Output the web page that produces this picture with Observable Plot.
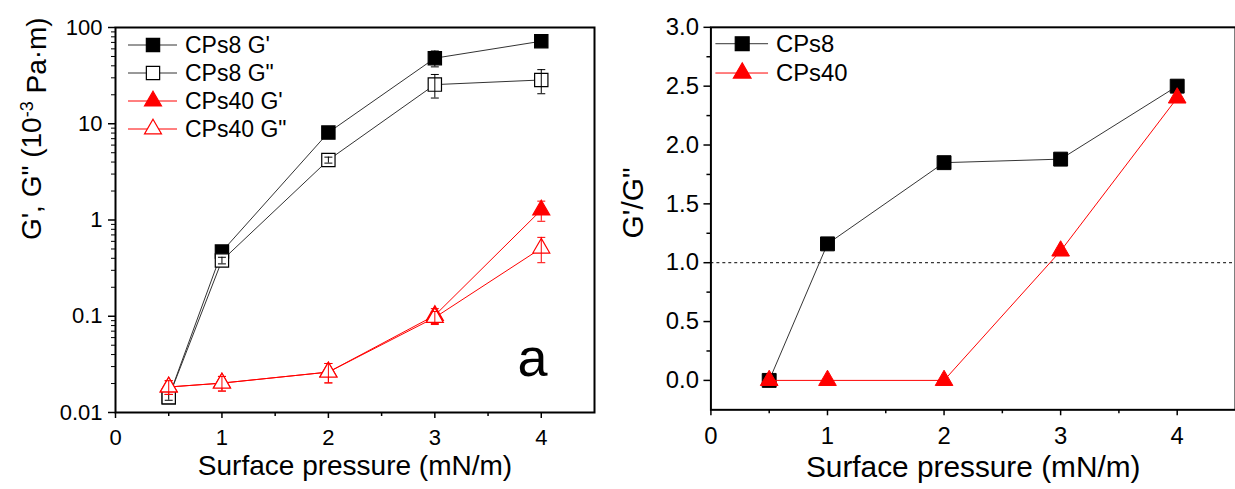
<!DOCTYPE html>
<html><head><meta charset="utf-8">
<script src="https://cdn.jsdelivr.net/npm/d3@7"></script>
<script src="https://cdn.jsdelivr.net/npm/@observablehq/plot@0.6"></script>
<style>
html,body{margin:0;padding:0;background:#fff;overflow:hidden;}
#wrap{position:relative;width:1235px;height:489px;overflow:hidden;background:#fff;}
#left{position:absolute;left:0;top:0;}
#right{position:absolute;left:620px;top:0;}
svg{font-family:"Liberation Sans",Arial,sans-serif;overflow:visible;}
</style></head><body>
<div id="wrap"><div id="left"></div><div id="right"></div></div>
<script>
// ---------- data ----------
const pressure = [0.5, 1, 2, 3, 4];
const cps8G1 = [0.0144, 0.47, 8.1, 48, 72];
const cps8G1Err = [0.001, 0.03, 0.6, 9, 6];
const cps8G2 = [0.0144, 0.38, 4.2, 25.5, 28.5];
const cps8G2Err = [0.001, 0.03, 0.3, 7, 8];
const cps40G1 = [0.0184, 0.0202, 0.0263, 0.102, 1.27];
const cps40G1Err = [0.003, 0.0035, 0.006, 0.018, 0.3];
const cps40G2 = [0.0184, 0.0202, 0.0263, 0.097, 0.51];
const cps40G2Err = [0.003, 0.0035, 0.006, 0.015, 0.15];
const ratioCPs8 = [0, 1.16, 1.85, 1.88, 2.5];
const ratioCPs40 = [0, 0, 0, 1.1, 2.4];
const threshold = [1];
const xTicks = [0, 1, 2, 3, 4];
const xMinorTicks = [0.5, 1.5, 2.5, 3.5];
const yLogTicks = [0.01, 0.1, 1, 10, 100];
const yRatioTicks = [0, 0.5, 1, 1.5, 2, 2.5, 3];
const yRatioMinorTicks = [0.25, 0.75, 1.25, 1.75, 2.25, 2.75];
const leftNames = ["CPs8 G'", "CPs8 G\"", "CPs40 G'", "CPs40 G\""];
const rightNames = ["CPs8", "CPs40"];
const xTitle = "Surface pressure (mN/m)";
const yTitleLeft = "G', G\" (10-3 Pa·m)";
const yTitleRight = "G'/G\"";
const panelTag = "a";

// minor log ticks (2..9 per decade)
const yLogMinor = [];
for (let e = -2; e < 2; e++) for (let m = 2; m <= 9; m++) yLogMinor.push(m * Math.pow(10, e));

const FONT = "Liberation Sans, Arial, sans-serif";
const BLACK_LINE = "#333";
const RED = "#ff0000";

const cap = {draw(ctx, size) { const w = Math.sqrt(size) / 2; ctx.moveTo(-w, 0); ctx.lineTo(w, 0); }};

const leftSeries = [
  {name: leftNames[0], values: cps8G1, err: cps8G1Err, stroke: "#000", line: BLACK_LINE, symbol: "square", fill: "#000", r: 7.5},
  {name: leftNames[1], values: cps8G2, err: cps8G2Err, stroke: "#000", line: BLACK_LINE, symbol: "square", fill: "#fff", r: 7.5},
  {name: leftNames[2], values: cps40G1, err: cps40G1Err, stroke: RED, line: RED, symbol: "triangle", fill: RED, r: 6.3},
  {name: leftNames[3], values: cps40G2, err: cps40G2Err, stroke: RED, line: RED, symbol: "triangle", fill: "#fff", r: 6.3}
];

function rows(values, err) {
  return pressure.map((x, i) => ({x, y: values[i], lo: values[i] - (err ? err[i] : 0), hi: values[i] + (err ? err[i] : 0)}));
}

const leftMarks = [];
for (const s of leftSeries) {
  const d = rows(s.values, s.err);
  leftMarks.push(
    Plot.line(d, {x: "x", y: "y", stroke: s.line, strokeWidth: 1}),
    Plot.dot(d, {x: "x", y: "y", symbol: s.symbol, r: s.r, fill: s.fill, stroke: s.stroke, strokeWidth: 1.2}),
    Plot.ruleX(d, {x: "x", y1: "lo", y2: "hi", stroke: s.stroke, strokeWidth: 1}),
    Plot.dot(d, {x: "x", y: "lo", symbol: cap, r: 4.5, stroke: s.stroke, strokeWidth: 1}),
    Plot.dot(d, {x: "x", y: "hi", symbol: cap, r: 4.5, stroke: s.stroke, strokeWidth: 1})
  );
}

const left = Plot.plot({
  width: 620, height: 489,
  marginLeft: 115, marginRight: 26, marginTop: 27, marginBottom: 77,
  style: {fontFamily: FONT, background: "transparent", color: "#000"},
  x: {domain: [0, 4.5]},
  y: {type: "log", domain: [0.01, 100]},
  marks: [
    ...leftMarks,
    Plot.axisX({ticks: xTicks, tickSize: 6, tickPadding: 11, fontSize: 22, label: null, tickFormat: d => String(d), strokeWidth: 1.5}),
    Plot.axisX({ticks: xMinorTicks, tickSize: 4, text: null, label: null, strokeWidth: 1.5}),
    Plot.axisY({ticks: yLogTicks, tickSize: 7, tickPadding: 6, fontSize: 22, label: null, tickFormat: d => String(d), strokeWidth: 1.5}),
    Plot.axisY({ticks: yLogMinor, tickSize: 4, text: null, label: null, strokeWidth: 1}),
    Plot.frame({stroke: "#000", strokeWidth: 2}),
    Plot.text([xTitle], {frameAnchor: "bottom", dy: 54, fontSize: 28, lineAnchor: "middle"}),
    Plot.text([yTitleLeft], {frameAnchor: "left", dx: -83, dy: 20, rotate: -90, fontSize: 28, lineAnchor: "middle"}),
    Plot.text([panelTag], {frameAnchor: "bottom-right", dx: -47, dy: -54, fontSize: 54, textAnchor: "end", lineAnchor: "middle"})
  ]
});
document.getElementById("left").appendChild(left);

const rightSeries = [
  {name: rightNames[0], values: ratioCPs8, stroke: "#000", line: BLACK_LINE, symbol: "square", fill: "#000", r: 7.9},
  {name: rightNames[1], values: ratioCPs40, stroke: RED, line: RED, symbol: "triangle", fill: RED, r: 6.6}
];
const rightMarks = [Plot.ruleY(threshold, {stroke: "#000", strokeWidth: 1, strokeDasharray: "3,3"})];
for (const s of rightSeries) {
  const d = rows(s.values, null);
  rightMarks.push(
    Plot.line(d, {x: "x", y: "y", stroke: s.line, strokeWidth: 1}),
    Plot.dot(d, {x: "x", y: "y", symbol: s.symbol, r: s.r, fill: s.fill, stroke: s.stroke, strokeWidth: 1})
  );
}

const right = Plot.plot({
  width: 619, height: 489,
  marginLeft: 91, marginRight: 0, marginTop: 27, marginBottom: 77,
  style: {fontFamily: FONT, background: "transparent", color: "#000"},
  x: {domain: [0, 4.5]},
  y: {domain: [-0.25, 3]},
  marks: [
    ...rightMarks,
    Plot.axisX({ticks: xTicks, tickSize: 6, tickPadding: 11, fontSize: 24, label: null, tickFormat: d => String(d), strokeWidth: 1.5}),
    Plot.axisX({ticks: xMinorTicks, tickSize: 4, text: null, label: null, strokeWidth: 1.5}),
    Plot.axisY({ticks: yRatioTicks, tickSize: 7, tickPadding: 5, fontSize: 24, label: null, tickFormat: d3.format(".1f"), strokeWidth: 1.5}),
    Plot.axisY({ticks: yRatioMinorTicks, tickSize: 4, text: null, label: null, strokeWidth: 1.5}),
    Plot.frame({stroke: "#000", strokeWidth: 2}),
    Plot.text([xTitle], {frameAnchor: "bottom", dy: 58, fontSize: 30, lineAnchor: "middle"}),
    Plot.text([yTitleRight], {frameAnchor: "left", dx: -78, dy: 20, rotate: -90, fontSize: 30, lineAnchor: "middle"})
  ]
});
document.getElementById("right").appendChild(right);

// superscript in left y title
d3.select(left).selectAll("text").filter(function() { return this.textContent === yTitleLeft; }).each(function() {
  const t = d3.select(this);
  t.text(null);
  t.append("tspan").text("G', G\" (10");
  t.append("tspan").attr("dy", "-0.45em").attr("font-size", "18").text("-3");
  t.append("tspan").attr("dy", "0.45em").text(" Pa·m)");
});

// legends
function legend(svg, series, opts) {
  const g = d3.select(svg).append("g").attr("font-family", FONT).attr("font-size", opts.fontSize).attr("text-anchor", "start");
  series.forEach((s, i) => {
    const y = opts.y0 + i * opts.dy;
    g.append("line").attr("x1", opts.x1).attr("x2", opts.x2).attr("y1", y).attr("y2", y)
      .attr("stroke", s.line).attr("stroke-width", 1);
    const sym = s.symbol === "square" ? d3.symbolSquare : d3.symbolTriangle;
    g.append("path").attr("d", d3.symbol(sym, Math.PI * s.r * s.r)())
      .attr("transform", `translate(${opts.xm},${y})`)
      .attr("fill", s.fill).attr("stroke", s.stroke).attr("stroke-width", 1.2);
    g.append("text").attr("x", opts.xt).attr("y", y).attr("dy", "0.35em").attr("text-anchor", "start").attr("fill", "#000").text(s.name);
  });
}
legend(left, leftSeries, {x1: 128, x2: 177, xm: 153, xt: 185, y0: 45, dy: 28, fontSize: 23});
legend(right, rightSeries, {x1: 96, x2: 149, xm: 123, xt: 157, y0: 44, dy: 29.5, fontSize: 24});
</script>
</body></html>
